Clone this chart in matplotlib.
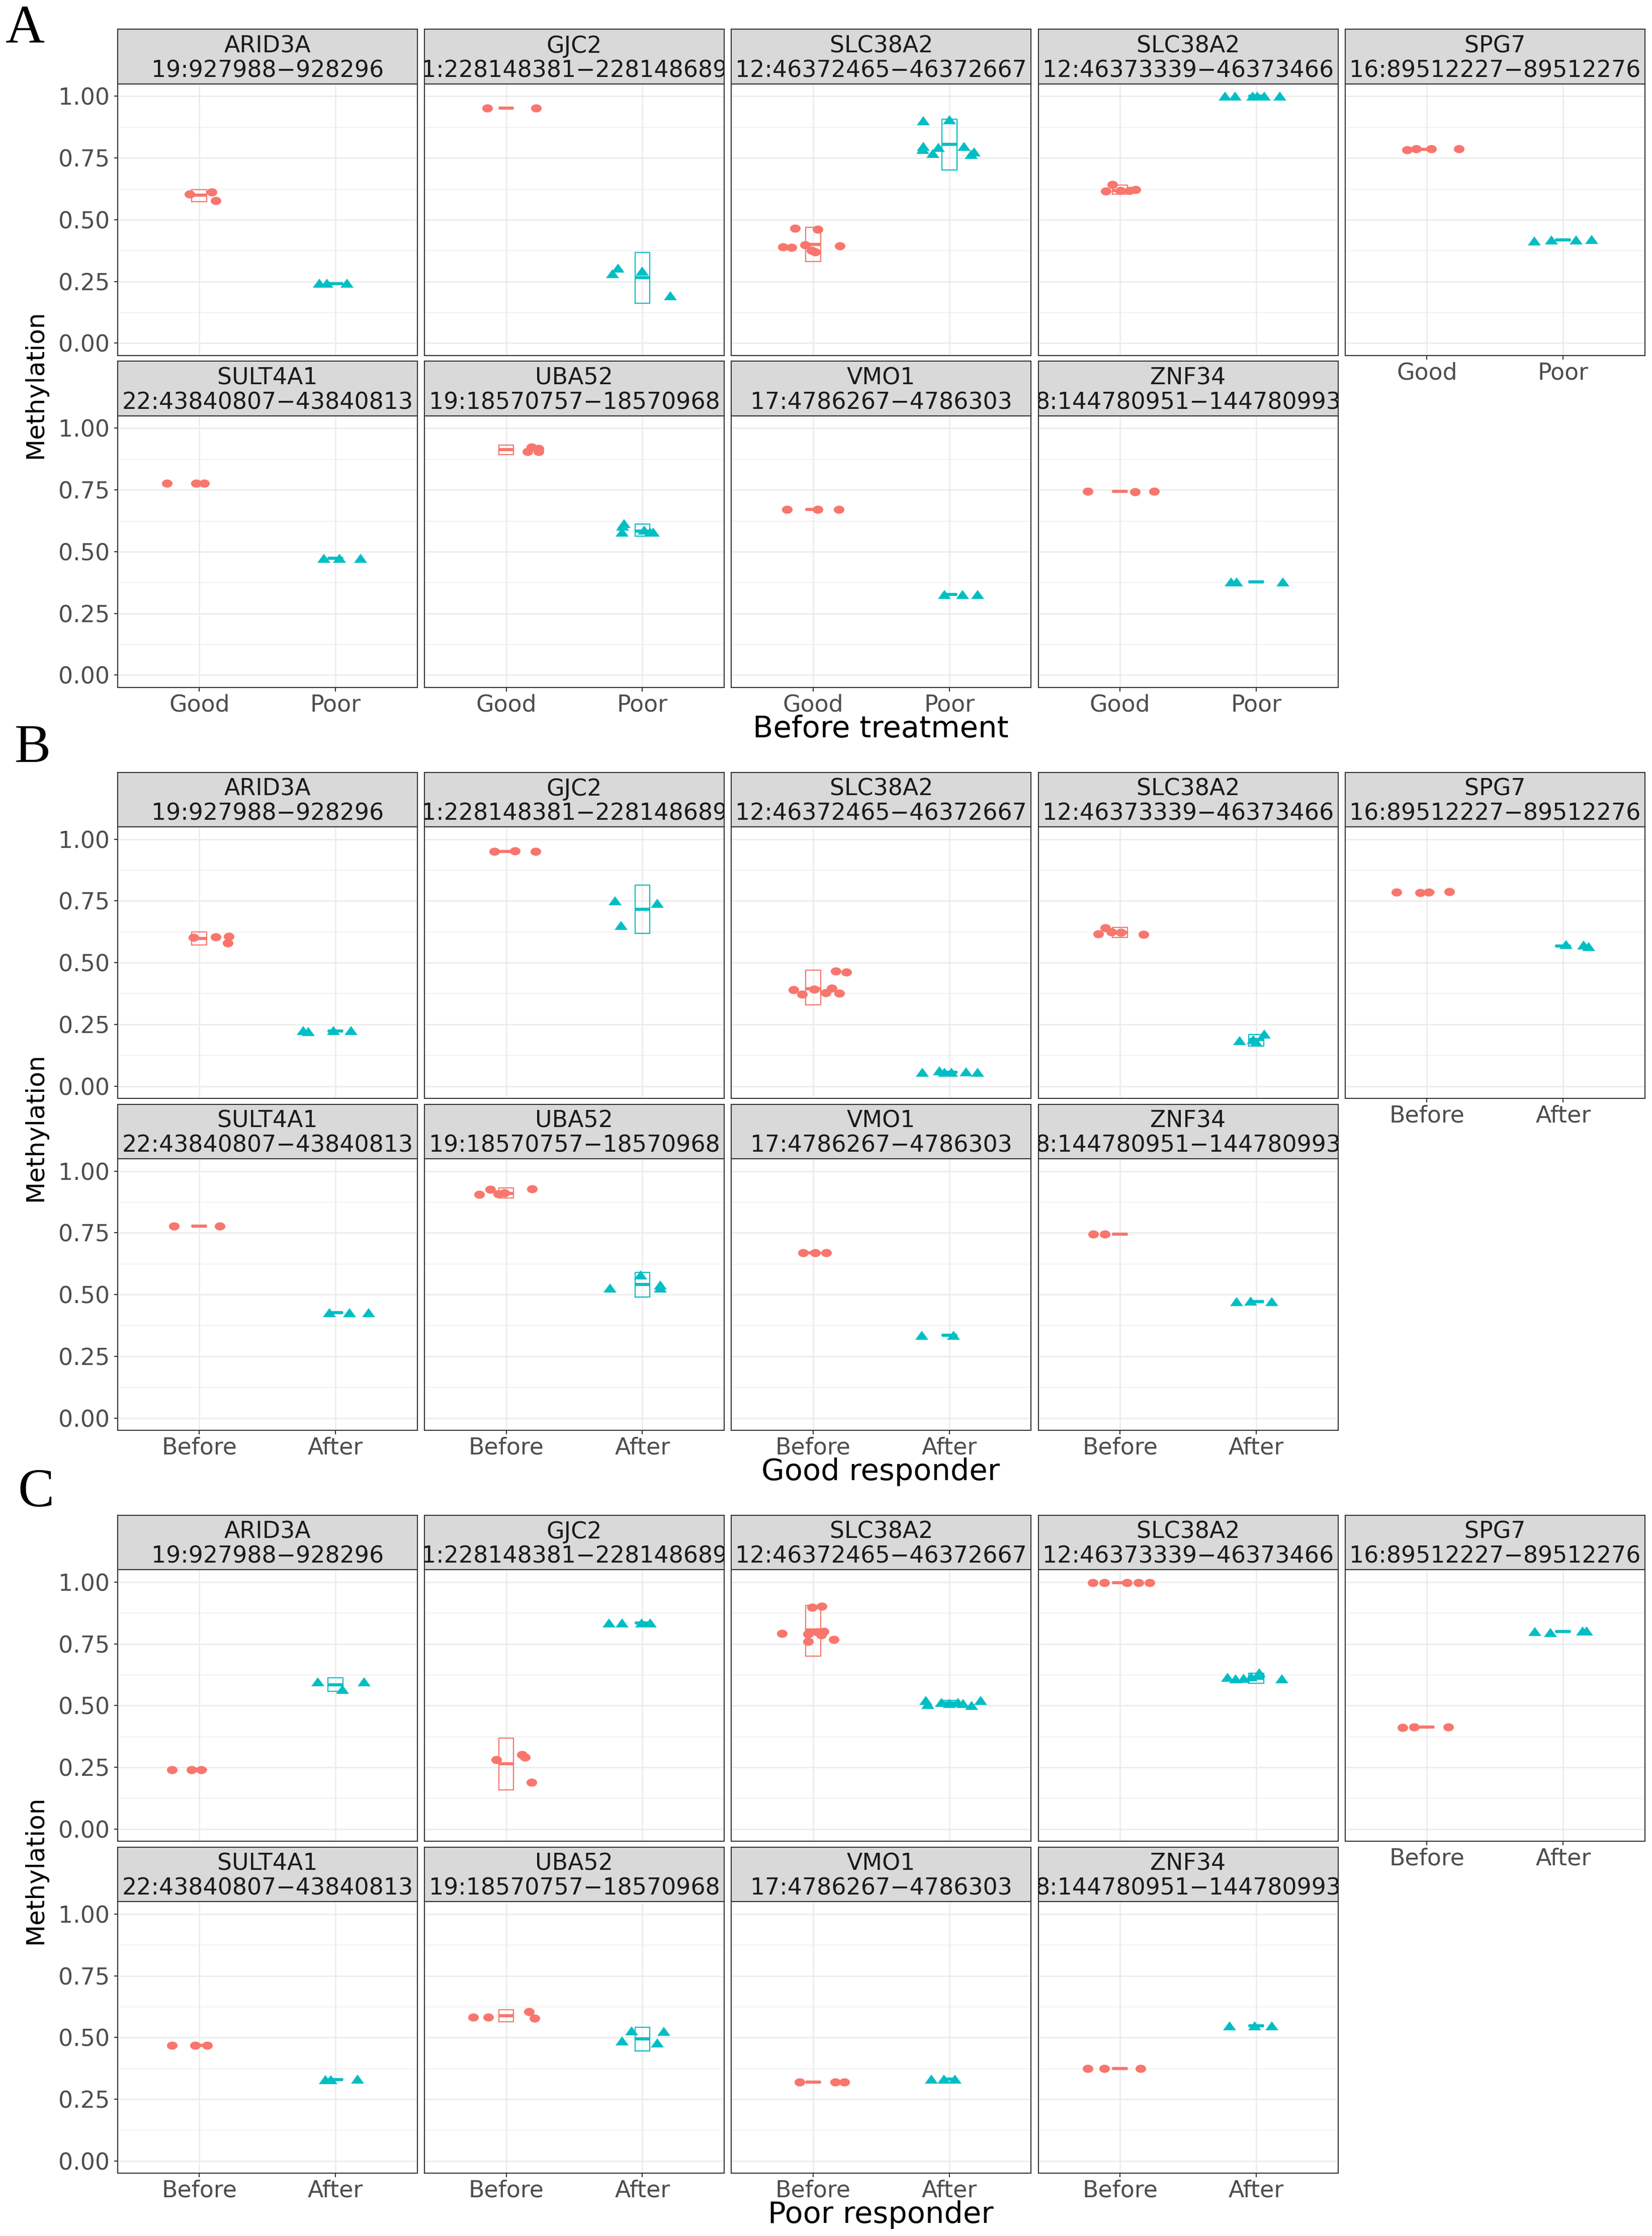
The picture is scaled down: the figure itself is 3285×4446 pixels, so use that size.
import matplotlib
matplotlib.use("Agg")
import matplotlib.pyplot as plt
import numpy as np
from matplotlib.markers import MarkerStyle
from matplotlib.transforms import Affine2D

plt.rcParams['font.family'] = ['DejaVu Sans']

# Facet labels
genes = ["ARID3A", "GJC2", "SLC38A2", "SLC38A2", "SPG7",
         "SULT4A1", "UBA52", "VMO1", "ZNF34"]
regions = ["19:927988−928296", "1:228148381−228148689", "12:46372465−46372667",
           "12:46373339−46373466", "16:89512227−89512276", "22:43840807−43840813",
           "19:18570757−18570968", "17:4786267−4786303", "8:144780951−144780993"]

x_labels_a = ["Good", "Poor"]
x_labels_bc = ["Before", "After"]
block_titles = ["Before treatment", "Good responder", "Poor responder"]
block_tags = ["A", "B", "C"]

# ---- A: before treatment, good (red) vs poor (teal) ----
a_good_y = [[0.604, 0.611, 0.578], [0.952, 0.951],
            [0.466, 0.461, 0.389, 0.387, 0.397, 0.375, 0.369, 0.393],
            [0.643, 0.615, 0.618, 0.618, 0.623], [0.782, 0.786, 0.787, 0.787],
            [0.776, 0.776, 0.776], [0.905, 0.924, 0.917, 0.905],
            [0.671, 0.671, 0.671], [0.745, 0.743, 0.744]]
a_good_dx = [[-0.07, 0.09, 0.12], [-0.14, 0.22],
             [-0.134, 0.035, -0.22, -0.16, -0.06, -0.01, 0.017, 0.195],
             [-0.056, -0.104, 0.004, 0.069, 0.113], [-0.147, -0.078, 0.03, 0.234],
             [-0.237, -0.023, 0.035], [0.156, 0.185, 0.237, 0.237],
             [-0.19, 0.035, 0.19], [-0.237, 0.11, 0.25]]
a_good_box = [(0.573, 0.600, 0.623), (0.951, 0.951, 0.951), (0.331, 0.400, 0.469),
              (0.603, 0.618, 0.640), (0.785, 0.785, 0.785), (0.776, 0.776, 0.776),
              (0.892, 0.913, 0.931), (0.671, 0.671, 0.671), (0.745, 0.745, 0.745)]

a_poor_y = [[0.243, 0.243, 0.243], [0.282, 0.304, 0.292, 0.192],
            [0.901, 0.906, 0.798, 0.784, 0.794, 0.769, 0.798, 0.764, 0.774],
            [1.0, 1.0, 1.0, 1.0, 1.0, 1.0], [0.414, 0.419, 0.419, 0.421],
            [0.473, 0.473, 0.473], [0.603, 0.614, 0.580, 0.588, 0.580, 0.580],
            [0.326, 0.326, 0.326], [0.377, 0.377, 0.377]]
a_poor_dx = [[-0.12, -0.065, 0.086], [-0.22, -0.18, 0.0, 0.206],
             [-0.19, 0.0, -0.19, -0.195, -0.082, -0.121, 0.108, 0.16, 0.18],
             [-0.23, -0.156, -0.026, 0.009, 0.06, 0.173], [-0.21, -0.087, 0.095, 0.208],
             [-0.087, 0.029, 0.185], [-0.145, -0.133, -0.15, 0.012, 0.058, 0.081],
             [-0.035, 0.098, 0.208], [-0.185, -0.145, 0.197]]
a_poor_box = [(0.242, 0.242, 0.242), (0.161, 0.266, 0.367), (0.701, 0.805, 0.908),
              (1.0, 1.0, 1.0), (0.418, 0.418, 0.418), (0.473, 0.473, 0.473),
              (0.562, 0.584, 0.611), (0.326, 0.326, 0.326), (0.377, 0.377, 0.377)]

# ---- B: good responder, before (red) vs after (teal) ----
b_before_y = [[0.603, 0.605, 0.607, 0.579], [0.950, 0.952, 0.950],
              [0.466, 0.461, 0.390, 0.372, 0.392, 0.378, 0.396, 0.376],
              [0.640, 0.616, 0.625, 0.615, 0.622], [0.786, 0.784, 0.786, 0.788],
              [0.777, 0.777], [0.905, 0.925, 0.907, 0.912, 0.928],
              [0.670, 0.670, 0.670], [0.745, 0.745]]
b_before_dx = [[-0.043, 0.122, 0.216, 0.209], [-0.086, 0.065, 0.216],
               [0.165, 0.245, -0.144, -0.079, 0.007, 0.094, 0.137, 0.194],
               [-0.108, -0.158, -0.065, 0.173, 0.007], [-0.223, -0.05, 0.014, 0.165],
               [-0.185, 0.15], [-0.197, -0.116, -0.058, -0.012, 0.191],
               [-0.075, 0.017, 0.098], [-0.197, -0.11]]
b_before_box = [(0.572, 0.599, 0.625), (0.950, 0.950, 0.950), (0.330, 0.394, 0.470),
                (0.602, 0.622, 0.642), (0.786, 0.786, 0.786), (0.777, 0.777, 0.777),
                (0.891, 0.910, 0.933), (0.670, 0.670, 0.670), (0.745, 0.745, 0.745)]

b_after_y = [[0.225, 0.221, 0.225, 0.225], [0.751, 0.651, 0.740],
             [0.056, 0.062, 0.056, 0.056, 0.058, 0.056],
             [0.184, 0.189, 0.211, 0.178], [0.574, 0.571, 0.566],
             [0.426, 0.426, 0.426], [0.527, 0.579, 0.527, 0.538],
             [0.336, 0.336], [0.471, 0.473, 0.471]]
b_after_dx = [[-0.237, -0.201, -0.014, 0.115], [-0.20, -0.158, 0.108],
              [-0.20, -0.072, -0.036, 0.014, 0.122, 0.209],
              [-0.122, -0.022, 0.058, 0.0], [0.022, 0.15, 0.187],
              [-0.046, 0.104, 0.243], [-0.237, -0.012, 0.133, 0.133],
              [-0.202, 0.03], [-0.145, -0.04, 0.116]]
b_after_box = [(0.224, 0.224, 0.224), (0.619, 0.716, 0.814), (0.054, 0.056, 0.058),
               (0.163, 0.189, 0.209), (0.568, 0.568, 0.568), (0.426, 0.426, 0.426),
               (0.490, 0.540, 0.589), (0.336, 0.336, 0.336), (0.471, 0.471, 0.471)]

# ---- C: poor responder, before (red) vs after (teal) ----
c_before_y = [[0.240, 0.240, 0.240], [0.281, 0.301, 0.290, 0.189],
              [0.897, 0.902, 0.792, 0.790, 0.799, 0.801, 0.760, 0.786, 0.768],
              [0.997, 0.997, 0.997, 0.997, 0.997], [0.412, 0.414, 0.414],
              [0.468, 0.468, 0.468], [0.583, 0.583, 0.605, 0.579],
              [0.320, 0.320, 0.320], [0.375, 0.375, 0.375]]
c_before_dx = [[-0.20, -0.058, 0.014], [-0.072, 0.115, 0.137, 0.187],
               [-0.007, 0.065, -0.23, -0.036, 0.029, 0.079, -0.036, 0.058, 0.151],
               [-0.20, -0.115, 0.05, 0.137, 0.216], [-0.18, -0.094, 0.158],
               [-0.202, -0.029, 0.058], [-0.243, -0.133, 0.168, 0.208],
               [-0.098, 0.162, 0.231], [-0.237, -0.116, 0.15]]
c_before_box = [(0.240, 0.240, 0.240), (0.159, 0.264, 0.368), (0.701, 0.806, 0.907),
                (0.997, 0.997, 0.997), (0.414, 0.414, 0.414), (0.468, 0.468, 0.468),
                (0.563, 0.588, 0.612), (0.320, 0.320, 0.320), (0.375, 0.375, 0.375)]

c_after_y = [[0.596, 0.566, 0.596], [0.834, 0.834, 0.834, 0.834],
             [0.520, 0.505, 0.512, 0.509, 0.509, 0.501, 0.520, 0.512],
             [0.614, 0.608, 0.611, 0.633, 0.608, 0.616], [0.801, 0.797, 0.803, 0.803],
             [0.329, 0.329, 0.332], [0.528, 0.486, 0.526, 0.478],
             [0.332, 0.332, 0.332], [0.547, 0.547, 0.547]]
c_after_dx = [[-0.13, 0.05, 0.209], [-0.245, -0.151, -0.007, 0.058],
              [-0.173, -0.158, -0.058, 0.0, 0.10, 0.165, 0.23, 0.065],
              [-0.209, -0.151, -0.094, 0.022, 0.187, -0.036], [-0.209, -0.094, 0.144, 0.173],
              [-0.075, -0.035, 0.162], [-0.081, -0.150, 0.156, 0.110],
              [-0.133, -0.04, 0.04], [-0.197, -0.012, 0.116]]
c_after_box = [(0.557, 0.585, 0.612), (0.834, 0.834, 0.834), (0.505, 0.510, 0.520),
               (0.591, 0.611, 0.631), (0.800, 0.800, 0.800), (0.330, 0.330, 0.330),
               (0.446, 0.494, 0.542), (0.332, 0.332, 0.332), (0.547, 0.547, 0.547)]

blocks = [
    (a_good_y, a_good_dx, a_good_box, a_poor_y, a_poor_dx, a_poor_box, x_labels_a),
    (b_before_y, b_before_dx, b_before_box, b_after_y, b_after_dx, b_after_box, x_labels_bc),
    (c_before_y, c_before_dx, c_before_box, c_after_y, c_after_dx, c_after_box, x_labels_bc),
]

red = '#F8766D'
teal = '#00BFC4'
# the reference is slightly stretched sideways, so are its markers
circle = MarkerStyle('o', transform=Affine2D().scale(1.3, 1.0))
triangle = MarkerStyle('^', transform=Affine2D().scale(1.45, 1.0))

# layout in pixels
W, H = 3285, 4446
dpi = 300
fig = plt.figure(figsize=(W / dpi, H / dpi), dpi=dpi)

col_left0, col_step, panel_w = 233.7, 610.3, 596
strip_h, plot_h, row_step = 108.5, 540, 660
block_step = 1477.2
block_top0 = 58.4


def px_axes(left, top, width, height):
    return fig.add_axes([left / W, 1 - (top + height) / H, width / W, height / H])


def stats(q):
    q1, med, q3 = q
    return dict(med=med, q1=q1, q3=q3, whislo=q1, whishi=q3, fliers=[])


tag_pos = [(11, 84), (29, 1515), (36, 2995)]

for b, (gy, gdx, gbox, py, pdx, pbox, xl) in enumerate(blocks):
    top0 = block_top0 + b * block_step
    for i in range(9):
        row, col = (0, i) if i < 5 else (1, i - 5)
        left = col_left0 + col * col_step
        stop = top0 + row * row_step

        # strip
        sax = px_axes(left, stop, panel_w, strip_h)
        sax.set_facecolor('#D9D9D9')
        sax.set_xticks([])
        sax.set_yticks([])
        for s in sax.spines.values():
            s.set_color('#333333')
            s.set_linewidth(0.5)
        sax.text(0.5, 0.575, genes[i], ha='center', va='baseline', fontsize=11,
                 color='#1A1A1A', transform=sax.transAxes, clip_on=True)
        sax.text(0.5, 0.128, regions[i], ha='center', va='baseline', fontsize=11,
                 color='#1A1A1A', transform=sax.transAxes, clip_on=True)

        # panel
        ax = px_axes(left, stop + strip_h, panel_w, plot_h)
        ax.set_xlim(0.4, 2.6)
        ax.set_ylim(-0.05, 1.05)
        ax.set_xticks([1, 2])
        ax.set_xticklabels(xl)
        ax.set_yticks([0, 0.25, 0.5, 0.75, 1.0])
        ax.set_yticklabels(["0.00", "0.25", "0.50", "0.75", "1.00"])
        ax.set_yticks([0.125, 0.375, 0.625, 0.875], minor=True)
        ax.grid(which='major', color='#EBEBEB', linewidth=0.6)
        ax.grid(which='minor', axis='y', color='#EBEBEB', linewidth=0.3)
        ax.set_axisbelow(True)
        for s in ax.spines.values():
            s.set_color('#333333')
            s.set_linewidth(0.5)
        ax.tick_params(which='minor', left=False)
        ax.tick_params(axis='both', which='major', length=1.8, width=0.5, color='#333333',
                       labelcolor='#4D4D4D', labelsize=11)
        ax.tick_params(axis='x', pad=1.2)
        ax.tick_params(axis='y', pad=2.0)
        if not (row == 1 or i == 4):
            ax.tick_params(axis='x', bottom=False, labelbottom=False)
        if col != 0:
            ax.tick_params(axis='y', left=False, labelleft=False)

        for pos, ys, dxs, box, colr, mk, ms in [
                (1, gy[i], gdx[i], gbox[i], red, circle, 3.9),
                (2, py[i], pdx[i], pbox[i], teal, triangle, 4.3)]:
            ax.bxp([stats(box)], positions=[pos], widths=0.11, showcaps=False,
                   showfliers=False, manage_ticks=False,
                   boxprops=dict(color=colr, linewidth=0.55),
                   whiskerprops=dict(color=colr, linewidth=0.55),
                   medianprops=dict(color=colr, linewidth=1.5, solid_capstyle='butt'),
                   zorder=2)
            ax.plot(pos + np.array(dxs), ys, linestyle='none', marker=mk, ms=ms,
                    mfc=colr, mec=colr, mew=0, zorder=3)

    # block texts
    fig.text(1751 / W, 1 - (1466 + b * block_step) / H, block_titles[b],
             ha='center', va='baseline', fontsize=14.2, color='black')
    fig.text(70 / W, 1 - (764 + b * block_step) / H, "Methylation",
             ha='center', va='center', rotation=90, fontsize=12, color='black')
    tx, ty = tag_pos[b]
    fig.text(tx / W, 1 - ty / H, block_tags[b], ha='left', va='baseline',
             fontsize=26, family=['Liberation Serif', 'DejaVu Serif'], color='black')

fig.savefig('out.png', dpi=dpi, facecolor='white')
